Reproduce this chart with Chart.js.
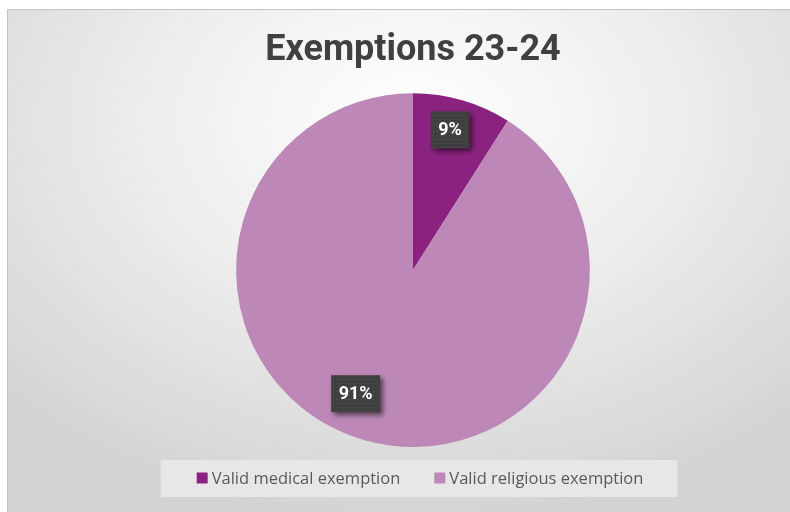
<!DOCTYPE html>
<html lang="en">
<head>
<meta charset="utf-8">
<script src="https://cdn.jsdelivr.net/npm/chart.js@4"></script>
<style>
  html, body { margin: 0; padding: 0; background: #ffffff; overflow: hidden; width: 790px; height: 512px; }
  #wrap {
    position: absolute; left: 7px; top: 9px; width: 810px; height: 502px;
    border-top: 1px solid #c4c4c4; border-left: 1px solid #c4c4c4;
    background: radial-gradient(ellipse 70% 80% at 50% 22%, #ffffff 0%, #eeeeee 45%, #d3d3d3 100%);
  }
  #chart { display: block; }
</style>
</head>
<body>
<div id="wrap"><canvas id="chart" width="810" height="502"></canvas></div>
<script>
const labels = ['Valid medical exemption', 'Valid religious exemption'];
const values = [9, 91];
const pctLabels = ['9%', '91%'];
const colors = ['#8c2280', '#bd88b7'];

// small nudges so the percent boxes sit where they do in the original
const labelAngleShift = [-1.4, 8.7];
const labelRadius = [0.82, 0.77];

// dotted fill for the label boxes
function dotPattern(ctx) {
    const c = document.createElement('canvas');
    c.width = 4; c.height = 4;
    const p = c.getContext('2d');
    p.fillStyle = '#3f3f3f';
    p.fillRect(0, 0, 4, 4);
    p.fillStyle = '#575757';
    p.fillRect(1, 1, 1, 1);
    return ctx.createPattern(c, 'repeat');
}

const pctBoxes = {
    id: 'pctBoxes',
    afterDatasetsDraw(chart) {
        const ctx = chart.ctx;
        const arcs = chart.getDatasetMeta(0).data;
        ctx.save();
        ctx.font = 'bold 18px Roboto';
        arcs.forEach((arc, i) => {
            const mid = (arc.startAngle + arc.endAngle) / 2 + labelAngleShift[i] * Math.PI / 180;
            const r = arc.outerRadius * labelRadius[i];
            const cx = arc.x + Math.cos(mid) * r;
            const cy = arc.y + Math.sin(mid) * r;
            const tw = ctx.measureText(pctLabels[i]).width;
            const w = tw + 15, h = 37;
            ctx.save();
            ctx.shadowColor = 'rgba(0,0,0,0.55)';
            ctx.shadowBlur = 5;
            ctx.shadowOffsetX = 3;
            ctx.shadowOffsetY = 3;
            ctx.fillStyle = dotPattern(ctx);
            ctx.fillRect(cx - w / 2, cy - h / 2, w, h);
            ctx.restore();
            ctx.fillStyle = '#ffffff';
            ctx.textAlign = 'center';
            ctx.textBaseline = 'middle';
            ctx.fillText(pctLabels[i], cx, cy + 1);
        });
        ctx.restore();
    }
};

const boxLegend = {
    id: 'boxLegend',
    afterDraw(chart) {
        const ctx = chart.ctx;
        const ca = chart.chartArea;
        const colors = chart.data.datasets[0].backgroundColor;
        ctx.save();
        ctx.font = '16.5px "Open Sans"';
        const sq = 11, gap = 4, itemGap = 34;
        const widths = chart.data.labels.map(t => ctx.measureText(t).width);
        let total = 0;
        widths.forEach((w, i) => { total += sq + gap + w + (i ? itemGap : 0); });
        const midX = (ca.left + ca.right) / 2 + 7;
        const y = ca.bottom + 31;
        ctx.fillStyle = 'rgba(232,232,232,0.95)';
        ctx.fillRect(midX - total / 2 - 36, y - 18, total + 70, 37);
        let x = midX - total / 2;
        ctx.textBaseline = 'middle';
        ctx.textAlign = 'left';
        chart.data.labels.forEach((t, i) => {
            ctx.fillStyle = colors[i];
            ctx.fillRect(x, y - sq / 2, sq, sq);
            ctx.fillStyle = '#595959';
            ctx.fillText(t, x + sq + gap, y + 1);
            x += sq + gap + widths[i] + itemGap;
        });
        ctx.restore();
    }
};

new Chart(document.getElementById('chart'), {
    type: 'pie',
    data: {
        labels: labels,
        datasets: [{
            data: values,
            backgroundColor: colors,
            borderWidth: 0
        }]
    },
    options: {
        responsive: false,
        animation: false,
        layout: { padding: { top: 0, bottom: 65, left: 0, right: 0 } },
        plugins: {
            legend: { display: false },
            tooltip: { enabled: false },
            title: {
                display: true,
                text: 'Exemptions 23-24',
                color: '#404040',
                font: { family: 'Roboto', size: 36, weight: 'bold' },
                padding: { top: 19, bottom: 21 }
            }
        }
    },
    plugins: [pctBoxes, boxLegend]
});
</script>
</body>
</html>
